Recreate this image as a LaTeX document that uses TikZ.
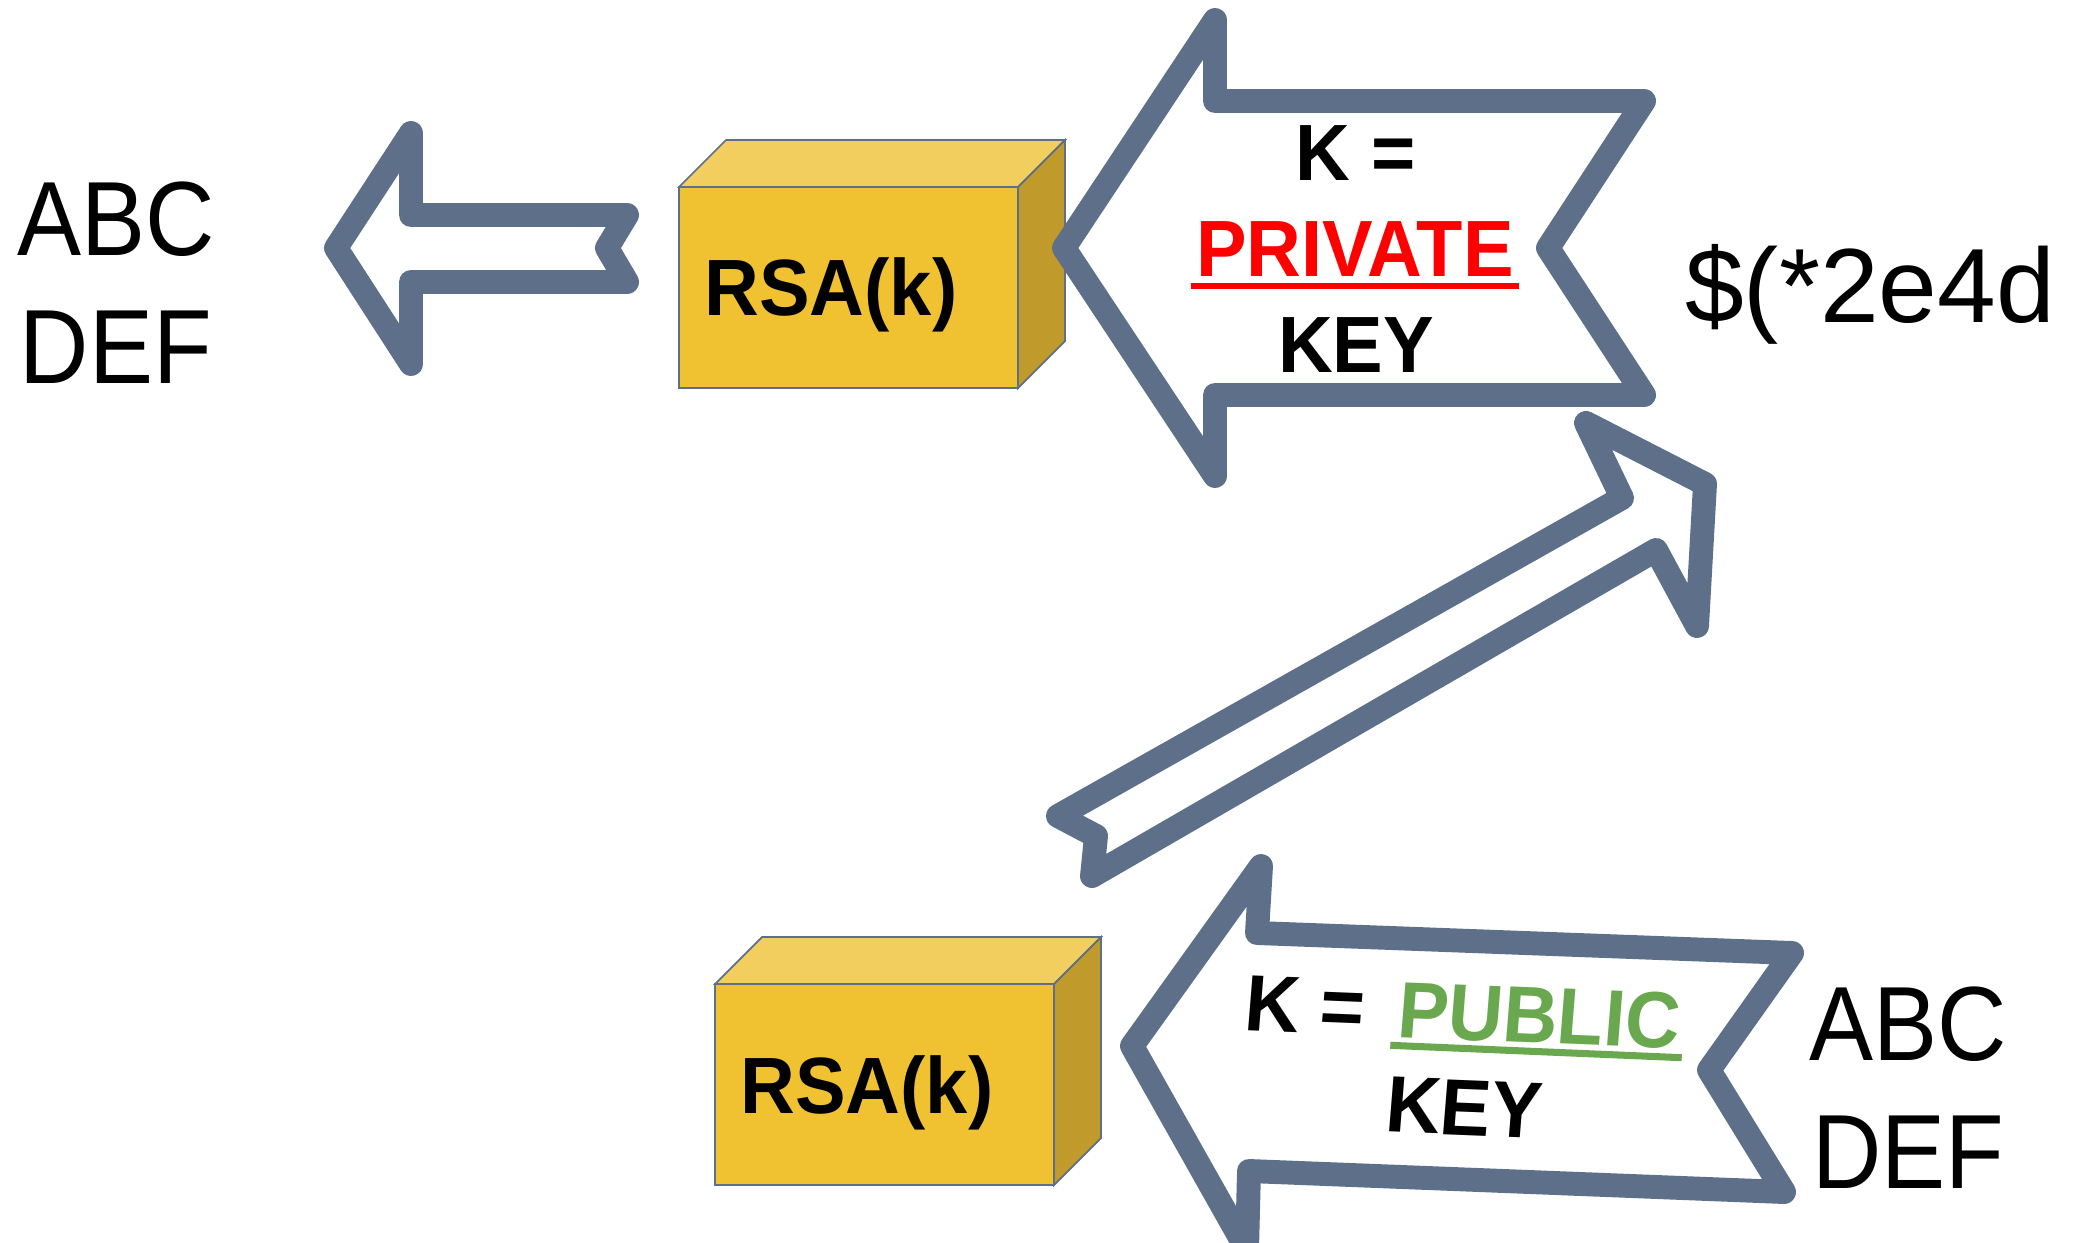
\documentclass[tikz,border=0pt]{standalone}
\usepackage{fontspec}
\setmainfont{Liberation Sans}
\newfontfamily\lettersfont[FakeStretch=0.91]{Liberation Sans}
\newfontfamily\keyfont[FakeStretch=0.95]{Liberation Sans}
\definecolor{slate}{RGB}{94,112,137}
\definecolor{boxfront}{RGB}{240,194,50}
\definecolor{boxtop}{RGB}{242,206,94}
\definecolor{boxside}{RGB}{192,154,42}
\definecolor{pubgreen}{RGB}{106,168,79}
\begin{document}
\begin{tikzpicture}[x=0.01cm, y=-0.01cm,
  outline/.style={draw=slate, line width=6.8pt, line join=round, fill=white},
  boxedge/.style={draw=slate, line width=0.5pt},
  letters/.style={font=\lettersfont\fontsize{30}{36.4}\selectfont, align=center, inner sep=0pt},
  keytext/.style={font=\keyfont\bfseries\fontsize{22.7}{27}\selectfont, inner sep=0pt, anchor=base}]
\useasboundingbox (0,0) rectangle (2079,1243);

% the two RSA boxes
\foreach \bx/\by/\nm in {679/187/rsatop, 715/984/rsabottom} {
  \filldraw[boxedge, fill=boxtop] (\bx,\by) -- ++(47,-47) -- ++(339,0) -- ++(-47,47) -- cycle;
  \filldraw[boxedge, fill=boxside] (\bx+339,\by) -- ++(47,-47) -- ++(0,201) -- ++(-47,47) -- cycle;
  \filldraw[boxedge, fill=boxfront] (\bx,\by) rectangle ++(339,201);
  \node[keytext] (\nm) at (\bx+152,\by+129) {RSA(k)};
}

% block arrows
\draw[outline] (336,248) -- (411,133) -- (411,215) -- (627,215) -- (607,248)
  -- (627,282) -- (411,282) -- (411,364) -- cycle;
\draw[outline] (1064,248) -- (1215,20) -- (1215,101) -- (1644,101) -- (1548,248)
  -- (1644,395) -- (1215,395) -- (1215,476) -- cycle;
\draw[outline] (1705,484) -- (1697,626) -- (1656,550) -- (1092,876) -- (1096,836)
  -- (1058,816) -- (1622,498) -- (1586,423) -- cycle;
\draw[outline] (1132,1046) -- (1261,866) -- (1257,933) -- (1792,953) -- (1709,1070)
  -- (1784,1192) -- (1249,1171) -- (1247,1250) -- cycle;

% plain and encrypted text
\node[letters] (plainleft) at (116,283) {ABC\\DEF};
\node[letters] (plainright) at (1908,1088) {ABC\\DEF};
\node[font=\fontsize{30}{36}\selectfont, inner sep=0pt, anchor=base] (cipher) at (1870,323) {\$(*2e4d};

% private key
\node[keytext] (privk) at (1356,181) {K =};
\node[keytext, text=red] (priv) at (1355,277) {PRIVATE};
\node[keytext] (privkey) at (1356,373) {KEY};
\draw[red, line width=1.9pt] ([shift={(-5,9)}]priv.base west) -- ([shift={(5,9)}]priv.base east);

% public key
\node[keytext, rotate=-2.3, xslant=0.04] (pubk) at (1303,1033) {K =};
\node[keytext, rotate=-2.3, xslant=0.04, text=pubgreen] (pub) at (1537,1043) {PUBLIC};
\node[keytext, rotate=-2.3, xslant=0.04] (pubkey) at (1462,1135) {KEY};
\draw[pubgreen, line width=2pt] ([shift={(-5,8)}]pub.base west) -- ([shift={(3,9)}]pub.base east);
\end{tikzpicture}
\end{document}
